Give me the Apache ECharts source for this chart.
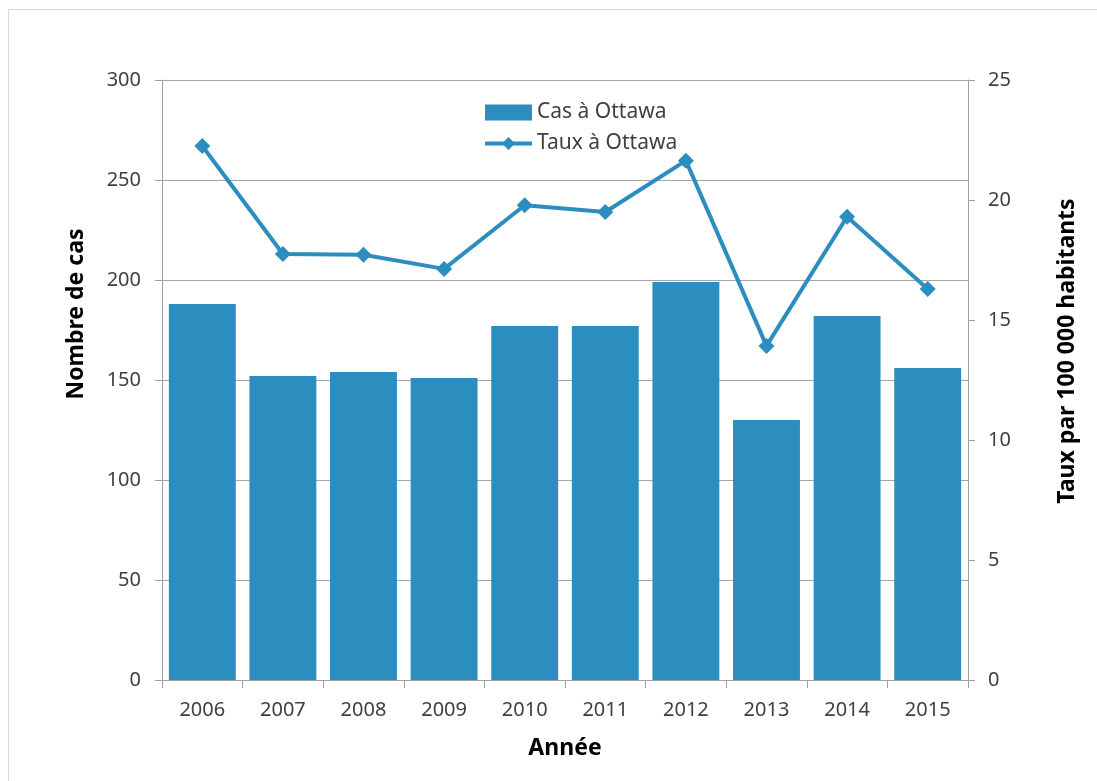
<!DOCTYPE html>
<html>
<head>
<meta charset="utf-8">
<script src="https://cdn.jsdelivr.net/npm/echarts@6/dist/echarts.min.js"></script>
<style>
  html, body { margin: 0; padding: 0; background: #fff; }
  #chart { width: 1097px; height: 781px; }
</style>
</head>
<body>
<div id="chart"></div>
<script>
const years = ['2006', '2007', '2008', '2009', '2010', '2011', '2012', '2013', '2014', '2015'];
const cases = [188, 152, 154, 151, 177, 177, 199, 130, 182, 156];
const rates = [22.25, 17.75, 17.72, 17.13, 19.78, 19.5, 21.64, 13.92, 19.3, 16.29];
const leftTicks = { min: 0, max: 300, interval: 50 };
const rightTicks = { min: 0, max: 25, interval: 5 };
const seriesNames = ['Cas à Ottawa', 'Taux à Ottawa'];
const titles = { left: 'Nombre de cas', right: 'Taux par 100 000 habitants', x: 'Année' };

const FONT = '"Noto Sans", "Liberation Sans", sans-serif';
const BLUE = '#2C8DBF';
const TXT = '#404040';
const AX = '#a0a0a0';

const chart = echarts.init(document.getElementById('chart'), null, { renderer: 'canvas' });
chart.setOption({
  backgroundColor: '#fff',
  animation: false,
  textStyle: { fontFamily: FONT },
  grid: { left: 162, right: 129, top: 80, bottom: 101 },
  legend: {
    orient: 'vertical',
    left: 483,
    top: 102,
    padding: 0,
    itemWidth: 47,
    itemHeight: 16,
    itemGap: 10,
    textStyle: { fontSize: 21, color: TXT, fontFamily: FONT },
    data: [
      { name: seriesNames[0], icon: 'rect' },
      { name: seriesNames[1], lineStyle: { width: 4 } }
    ]
  },
  xAxis: {
    type: 'category',
    data: years,
    boundaryGap: true,
    axisLine: { lineStyle: { color: AX, width: 1 } },
    axisTick: { show: true, length: 8, lineStyle: { color: AX } },
    axisLabel: { color: TXT, fontSize: 20, margin: 20, fontFamily: FONT }
  },
  yAxis: [
    {
      type: 'value',
      min: leftTicks.min, max: leftTicks.max, interval: leftTicks.interval,
      axisLine: { show: true, lineStyle: { color: AX } },
      axisTick: { show: true, length: 7, lineStyle: { color: AX } },
      axisLabel: { color: TXT, fontSize: 20, margin: 21, fontFamily: FONT },
      splitLine: { show: true, lineStyle: { color: '#a6a6a6', width: 1 } }
    },
    {
      type: 'value',
      position: 'right',
      min: rightTicks.min, max: rightTicks.max, interval: rightTicks.interval,
      axisLine: { show: true, lineStyle: { color: AX } },
      axisTick: { show: true, length: 7, lineStyle: { color: AX } },
      axisLabel: { color: TXT, fontSize: 20, margin: 20, fontFamily: FONT },
      splitLine: { show: false }
    }
  ],
  series: [
    {
      name: seriesNames[0],
      type: 'bar',
      data: cases,
      yAxisIndex: 0,
      barCategoryGap: '17%',
      itemStyle: { color: BLUE },
      z: 2
    },
    {
      name: seriesNames[1],
      type: 'line',
      data: rates,
      yAxisIndex: 1,
      symbol: 'diamond',
      symbolSize: 16,
      lineStyle: { color: BLUE, width: 4 },
      itemStyle: { color: BLUE },
      z: 3
    }
  ],
  graphic: [
    {
      type: 'rect',
      silent: true,
      shape: { x: 8.5, y: 9.5, width: 1200, height: 1000 },
      style: { fill: 'none', stroke: '#d9d9d9', lineWidth: 1 }
    },
    {
      type: 'text',
      x: 76, y: 314, rotation: Math.PI / 2,
      style: { text: titles.left, font: 'bold 23px ' + FONT, fill: '#000', align: 'center', verticalAlign: 'middle' }
    },
    {
      type: 'text',
      x: 1067, y: 351, rotation: Math.PI / 2,
      style: { text: titles.right, font: 'bold 23px ' + FONT, fill: '#000', align: 'center', verticalAlign: 'middle' }
    },
    {
      type: 'text',
      x: 565, y: 748,
      style: { text: titles.x, font: 'bold 23px ' + FONT, fill: '#000', align: 'center', verticalAlign: 'middle' }
    }
  ]
});
</script>
</body>
</html>
